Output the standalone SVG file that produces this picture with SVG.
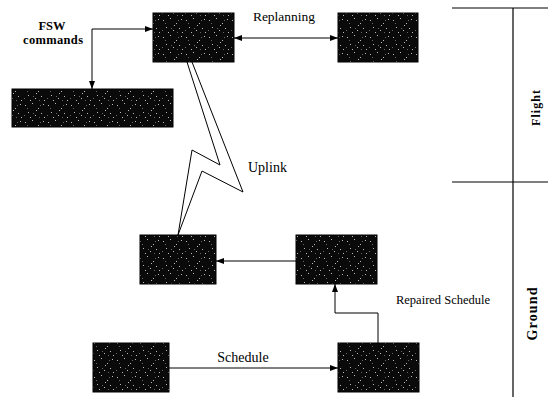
<svg xmlns="http://www.w3.org/2000/svg" width="548" height="406" viewBox="0 0 548 406">
<style>
.box{fill:url(#speck);stroke:#000;stroke-width:1}
.conn{fill:none;stroke:#000;stroke-width:1}
.lbl{font-family:"Liberation Serif","Times New Roman",serif;fill:#000}
.b{font-weight:bold}
.rule{stroke:#000;stroke-width:1.2}
</style>
<defs>
<pattern id="speck" width="23" height="17" patternUnits="userSpaceOnUse">
<rect width="23" height="17" fill="#0a0a0a"/>
<g fill="#bbb">
<rect x="2" y="3" width="1" height="1"/><rect x="9" y="1" width="1" height="1"/><rect x="15" y="6" width="1" height="1"/>
<rect x="20" y="2" width="1" height="1"/><rect x="5" y="10" width="1" height="1"/><rect x="12" y="13" width="1" height="1"/>
<rect x="18" y="11" width="1" height="1"/><rect x="7" y="15" width="1" height="1"/><rect x="21" y="15" width="1" height="1"/>
<rect x="13" y="8" width="1" height="1"/>
</g>
<g fill="#666">
<rect x="4" y="6" width="1" height="1"/><rect x="17" y="3" width="1" height="1"/><rect x="10" y="11" width="1" height="1"/>
<rect x="1" y="13" width="1" height="1"/><rect x="16" y="15" width="1" height="1"/>
</g>
</pattern>
<marker id="ah" markerWidth="8" markerHeight="6" refX="8" refY="3" orient="auto-start-reverse" markerUnits="userSpaceOnUse">
<path d="M0,0 L8,3 L0,6 Z" fill="#000"/>
</marker>
</defs>

<g id="node-A"><rect class="box" x="153" y="13" width="81" height="49"/></g>
<g id="node-B"><rect class="box" x="338" y="13" width="80" height="49"/></g>
<g id="node-C"><rect class="box" x="12" y="89" width="161" height="38"/></g>
<g id="node-D"><rect class="box" x="140" y="235" width="76" height="49"/></g>
<g id="node-E"><rect class="box" x="296" y="235" width="81" height="49"/></g>
<g id="node-F"><rect class="box" x="93" y="343" width="76" height="49"/></g>
<g id="node-G"><rect class="box" x="338" y="343" width="81" height="49"/></g>

<g id="connectors">
<line class="conn" x1="234" y1="38" x2="338" y2="38" marker-start="url(#ah)" marker-end="url(#ah)"/>
<path class="conn" d="M153,29 H92 V89" marker-start="url(#ah)" marker-end="url(#ah)"/>
<line class="conn" x1="296" y1="261" x2="216" y2="261" marker-end="url(#ah)"/>
<line class="conn" x1="169" y1="368" x2="338" y2="368" marker-end="url(#ah)"/>
<path class="conn" d="M378,343 V313 H335 V284" marker-end="url(#ah)"/>
<polygon id="uplink" points="187,62 220,165 192,150 178,235 202,171 243,192 192,62" fill="#fff" stroke="#000" stroke-width="1"/>
</g>

<g id="labels">
<text class="lbl b" x="52" y="30" font-size="12.5" text-anchor="middle">FSW</text>
<text class="lbl b" x="53" y="44" font-size="12.5" text-anchor="middle" textLength="60">commands</text>
<text class="lbl" x="284" y="21" font-size="13.5" text-anchor="middle">Replanning</text>
<text class="lbl" x="248" y="172" font-size="14">Uplink</text>
<text class="lbl" x="243" y="362" font-size="14" text-anchor="middle">Schedule</text>
<text class="lbl" x="443" y="304" font-size="12.5" text-anchor="middle">Repaired Schedule</text>
</g>

<g id="lanes">
<line class="rule" x1="452" y1="8" x2="548" y2="8"/>
<line class="rule" x1="452" y1="182" x2="548" y2="182"/>
<line class="rule" x1="513" y1="8" x2="513" y2="397"/>
<text class="lbl b" transform="translate(540,108) rotate(-90)" font-size="12" text-anchor="middle" textLength="36">Flight</text>
<text class="lbl b" transform="translate(537,314) rotate(-90)" font-size="14" text-anchor="middle" textLength="53">Ground</text>
</g>
</svg>
